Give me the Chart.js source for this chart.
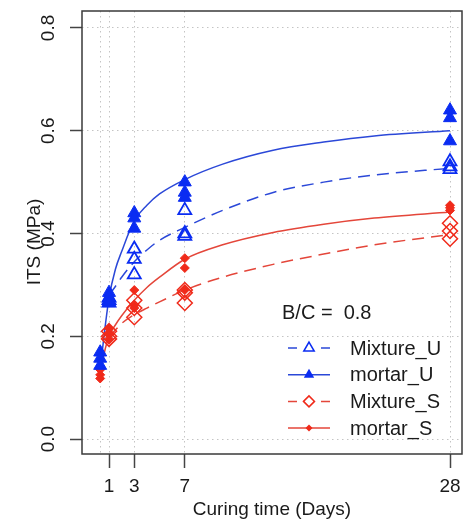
<!DOCTYPE HTML>
<html>
<head>
<title>ITS vs curing time</title>
<script src="https://cdn.jsdelivr.net/npm/chart.js@4.4.0/dist/chart.umd.min.js"></script>
<style>
  body { margin: 0; background: #fff; }
</style>
</head>
<body>
<canvas id="myChart" width="464" height="522"></canvas>
<script>
  // measured points (days, ITS in MPa)
  const mixUDays = [1, 1, 1, 3, 3, 3, 7, 7, 7, 28, 28, 28];
  const mixUVals = [0.275, 0.27, 0.265, 0.37, 0.35, 0.32, 0.445, 0.40, 0.395, 0.54, 0.53, 0.525];
  const mortUDays = [0.3, 0.3, 0.3, 1, 1, 1, 3, 3, 3, 7, 7, 7, 28, 28, 28];
  const mortUVals = [0.169, 0.157, 0.143, 0.285, 0.275, 0.265, 0.44, 0.43, 0.41, 0.50, 0.48, 0.47, 0.64, 0.625, 0.58];
  const mixSDays = [1, 1, 1, 3, 3, 3, 7, 7, 7, 28, 28, 28];
  const mixSVals = [0.21, 0.2, 0.195, 0.27, 0.255, 0.237, 0.29, 0.285, 0.265, 0.42, 0.405, 0.39];
  const mortSDays = [0.3, 0.3, 0.3, 1, 1, 1, 3, 3, 3, 7, 7, 7, 28, 28, 28];
  const mortSVals = [0.135, 0.125, 0.118, 0.215, 0.205, 0.195, 0.29, 0.26, 0.255, 0.352, 0.333, 0.29, 0.455, 0.45, 0.445];

  // fitted curves
  const mortFitDays = [0.3, 0.6, 1, 1.5, 2, 3, 4, 5, 7, 10, 14, 18, 22, 28];
  const mortUFit = [0.135, 0.2, 0.275, 0.33, 0.365, 0.425, 0.455, 0.477, 0.505, 0.535, 0.562, 0.578, 0.59, 0.6];
  const mortSFit = [0.125, 0.165, 0.2, 0.222, 0.24, 0.27, 0.295, 0.315, 0.35, 0.378, 0.402, 0.418, 0.43, 0.442];
  const mixFitDays = [1, 1.5, 2, 3, 4, 5, 7, 10, 14, 18, 22, 28];
  const mixUFit = [0.28, 0.297, 0.315, 0.345, 0.368, 0.387, 0.412, 0.445, 0.48, 0.5, 0.514, 0.527];
  const mixSFit = [0.2, 0.212, 0.225, 0.242, 0.255, 0.267, 0.29, 0.315, 0.34, 0.36, 0.378, 0.398];

  const xTickVals = [0.3, 1, 3, 7, 28];
  const xTickLabels = ['', '1', '3', '7', '28'];
  const yTickVals = [0, 0.2, 0.4, 0.6, 0.8];
  const yTickLabels = ['0.0', '0.2', '0.4', '0.6', '0.8'];
  const yTitle = 'ITS (MPa)';
  const xTitle = 'Curing time (Days)';
  const legendTitle = 'B/C =  0.8';

  const blue = '#0a2cf2', blueLine = '#2b48d8';
  const red = '#f02a1a', redLine = '#e4463a';
  const font = '"Liberation Sans", Arial, sans-serif';

  function pts(days, vals) {
    return days.map((d, i) => ({ x: d, y: vals[i] }));
  }

  const legendItems = [
    { text: 'Mixture_U', color: blue, line: blueLine, dashed: true, shape: 'tri', fill: false },
    { text: 'mortar_U', color: blue, line: blueLine, dashed: false, shape: 'tri', fill: true },
    { text: 'Mixture_S', color: red, line: redLine, dashed: true, shape: 'dia', fill: false },
    { text: 'mortar_S', color: red, line: redLine, dashed: false, shape: 'dia', fill: true }
  ];

  function marker(ctx, it, x, y) {
    ctx.beginPath();
    if (it.shape === 'tri') {
      const r = 6;
      ctx.moveTo(x, y - r);
      ctx.lineTo(x + r * 0.866, y + r / 2);
      ctx.lineTo(x - r * 0.866, y + r / 2);
    } else {
      const r = it.fill ? 3.5 : 5.5;
      ctx.moveTo(x - r, y);
      ctx.lineTo(x, y - r);
      ctx.lineTo(x + r, y);
      ctx.lineTo(x, y + r);
    }
    ctx.closePath();
    if (it.fill) { ctx.fillStyle = it.color; ctx.fill(); }
    else { ctx.strokeStyle = it.color; ctx.lineWidth = 1.5; ctx.stroke(); }
  }

  const overlay = {
    id: 'overlay',
    afterDraw(chart) {
      const ctx = chart.ctx, a = chart.chartArea, ys = chart.scales.y;
      ctx.save();
      ctx.strokeStyle = '#3a3a3a';
      ctx.lineWidth = 1.5;
      ctx.strokeRect(a.left, a.top, a.right - a.left, a.bottom - a.top);

      // rotated y labels, baseline on the right side
      ctx.fillStyle = '#1a1a1a';
      ctx.font = '19px ' + font;
      ctx.textAlign = 'center';
      ctx.textBaseline = 'alphabetic';
      yTickVals.forEach((v, i) => {
        ctx.save();
        ctx.translate(53.5, ys.getPixelForValue(v));
        ctx.rotate(-Math.PI / 2);
        ctx.fillText(yTickLabels[i], 0, 0);
        ctx.restore();
      });
      ctx.save();
      ctx.translate(39.5, 242);
      ctx.rotate(-Math.PI / 2);
      ctx.fillText(yTitle, 0, 0);
      ctx.restore();

      // legend
      ctx.font = '20px ' + font;
      ctx.textAlign = 'left';
      ctx.textBaseline = 'middle';
      ctx.fillText(legendTitle, 282, 313);
      legendItems.forEach((it, i) => {
        const y = 348 + i * 26.7;
        ctx.strokeStyle = it.line;
        ctx.lineWidth = 1.5;
        ctx.beginPath();
        if (it.dashed) {
          ctx.moveTo(288, y); ctx.lineTo(297, y);
          ctx.moveTo(321, y); ctx.lineTo(330, y);
        } else {
          ctx.moveTo(288, y); ctx.lineTo(330, y);
        }
        ctx.stroke();
        marker(ctx, it, 309, y);
        ctx.fillStyle = '#1a1a1a';
        ctx.fillText(it.text, 350, y + 1);
      });
      ctx.restore();
    }
  };

  const gridOpts = (len) => ({
    color: '#c4c4c4',
    lineWidth: 1,
    tickLength: len,
    tickWidth: 1.5,
    tickColor: (c) => (c.tick && c.tick.value === 0.3) ? 'rgba(0,0,0,0)' : '#444'
  });

  const myChart = new Chart(document.getElementById('myChart'), {
    type: 'scatter',
    data: {
      datasets: [
        { label: 'mortar_U', data: pts(mortUDays, mortUVals), pointStyle: 'triangle', pointRadius: 7.5,
          backgroundColor: blue, borderColor: blue, borderWidth: 1, order: 1 },
        { label: 'Mixture_U', data: pts(mixUDays, mixUVals), pointStyle: 'triangle', pointRadius: 7.5,
          backgroundColor: 'rgba(0,0,0,0)', borderColor: blue, borderWidth: 1.8, order: 2 },
        { label: 'mortar_S', data: pts(mortSDays, mortSVals), pointStyle: 'rectRot', pointRadius: 4.5,
          backgroundColor: red, borderColor: red, borderWidth: 1, order: 3 },
        { label: 'Mixture_S', data: pts(mixSDays, mixSVals), pointStyle: 'rectRot', pointRadius: 7.5,
          backgroundColor: 'rgba(0,0,0,0)', borderColor: red, borderWidth: 1.5, order: 4 },
        { type: 'line', label: 'fit mortar_U', data: pts(mortFitDays, mortUFit), borderColor: blueLine,
          borderWidth: 1.5, pointRadius: 0, cubicInterpolationMode: 'monotone', order: 5 },
        { type: 'line', label: 'fit Mixture_U', data: pts(mixFitDays, mixUFit), borderColor: blueLine,
          borderWidth: 1.5, borderDash: [12, 7], pointRadius: 0, cubicInterpolationMode: 'monotone', order: 6 },
        { type: 'line', label: 'fit mortar_S', data: pts(mortFitDays, mortSFit), borderColor: redLine,
          borderWidth: 1.5, pointRadius: 0, cubicInterpolationMode: 'monotone', order: 7 },
        { type: 'line', label: 'fit Mixture_S', data: pts(mixFitDays, mixSFit), borderColor: redLine,
          borderWidth: 1.5, borderDash: [12, 7], pointRadius: 0, cubicInterpolationMode: 'monotone', order: 8 }
      ]
    },
    options: {
      responsive: false,
      animation: false,
      events: [],
      layout: { autoPadding: false, padding: { top: 11, right: 2, left: 0, bottom: 0 } },
      plugins: { legend: { display: false }, tooltip: { enabled: false } },
      scales: {
        x: {
          type: 'linear', min: -1.14, max: 28.95,
          afterBuildTicks: s => { s.ticks = xTickVals.map(v => ({ value: v })); },
          afterFit: s => { s.height = 68; s.paddingLeft = 0; s.paddingRight = 0; },
          ticks: {
            callback: v => xTickLabels[xTickVals.indexOf(v)],
            font: { family: font, size: 19 }, color: '#1a1a1a', padding: 7, maxRotation: 0, autoSkip: false
          },
          grid: gridOpts(14),
          border: { display: false, dash: [1.5, 3.5] },
          title: { display: true, text: xTitle, color: '#1a1a1a', font: { family: font, size: 19 },
                   padding: { top: 0, bottom: 1 } }
        },
        y: {
          min: -0.029, max: 0.833,
          afterBuildTicks: s => { s.ticks = yTickVals.map(v => ({ value: v })); },
          afterFit: s => { s.width = 82; s.paddingTop = 0; s.paddingBottom = 0; },
          ticks: { display: false },
          grid: gridOpts(12),
          border: { display: false, dash: [1.5, 3.5] }
        }
      }
    },
    plugins: [overlay]
  });
</script>
</body>
</html>
